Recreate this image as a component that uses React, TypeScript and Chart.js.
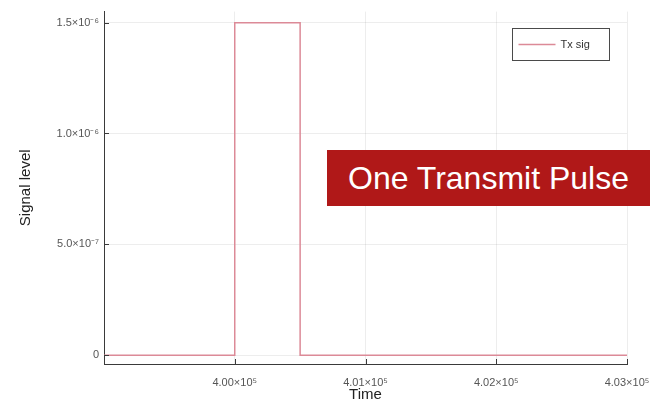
import React, { useEffect, useRef } from "react";
import { Chart, registerables } from "chart.js";

Chart.register(...registerables);

// Transmit signal: a single rectangular pulse
const times = [399000, 400000, 400000, 400500, 400500, 403000];
const levels = [0, 0, 1.5e-6, 1.5e-6, 0, 0];
const seriesName = "Tx sig";

// Axis ticks
const timeTicks = [400000, 401000, 402000, 403000];
const timeTickLabels = ["4.00×10⁵", "4.01×10⁵", "4.02×10⁵", "4.03×10⁵"];
const levelTicks = [0, 5e-7, 1e-6, 1.5e-6];
const levelTickLabels = ["0", "5.0×10⁻⁷", "1.0×10⁻⁶", "1.5×10⁻⁶"];

const LINE_COLOR = "#dc8a97";
const AXIS_COLOR = "#3a3a3a";
const FONT = "'Liberation Sans', Arial, sans-serif";

// Short tick marks drawn inward from the axes, plus an in-plot legend box
const innerTicksAndLegend = {
  id: "innerTicksAndLegend",
  afterDraw(chart: any) {
    const { ctx, chartArea, scales } = chart;
    const x = scales.x;
    const y = scales.y;
    ctx.save();
    ctx.strokeStyle = AXIS_COLOR;
    ctx.lineWidth = 1;
    ctx.beginPath();
    for (const v of levelTicks) {
      const py = Math.round(y.getPixelForValue(v)) + 0.5;
      ctx.moveTo(chartArea.left, py);
      ctx.lineTo(chartArea.left + 5, py);
    }
    for (const v of timeTicks) {
      const px = Math.round(x.getPixelForValue(v)) + 0.5;
      ctx.moveTo(px, chartArea.bottom);
      ctx.lineTo(px, chartArea.bottom - 5);
    }
    ctx.stroke();

    // legend
    const bx = 512.5, by = 28.5, bw = 97, bh = 32;
    ctx.fillStyle = "#ffffff";
    ctx.fillRect(bx, by, bw, bh);
    ctx.strokeStyle = "#4a4a4a";
    ctx.strokeRect(bx, by, bw, bh);
    ctx.strokeStyle = LINE_COLOR;
    ctx.lineWidth = 1.5;
    ctx.beginPath();
    ctx.moveTo(bx + 6, by + 16);
    ctx.lineTo(bx + 43, by + 16);
    ctx.stroke();
    ctx.fillStyle = "#333333";
    ctx.font = `11px ${FONT}`;
    ctx.textBaseline = "middle";
    ctx.fillText(seriesName, bx + 48, by + 16);
    ctx.restore();
  },
};

export default function App() {
  const canvasRef = useRef<HTMLCanvasElement | null>(null);

  useEffect(() => {
    if (!canvasRef.current) return;
    const chart = new Chart(canvasRef.current, {
      type: "line",
      data: {
        datasets: [
          {
            label: seriesName,
            data: times.map((t, i) => ({ x: t, y: levels[i] })),
            borderColor: LINE_COLOR,
            borderWidth: 1.5,
            pointRadius: 0,
            tension: 0,
            fill: false,
          },
        ],
      },
      options: {
        animation: false,
        responsive: false,
        maintainAspectRatio: false,
        layout: { padding: { top: 5, right: 27, left: 0, bottom: 0 } },
        plugins: {
          legend: { display: false },
          tooltip: { enabled: false },
        },
        scales: {
          x: {
            type: "linear",
            min: 399000,
            max: 403000,
            afterFit(scale: any) {
              scale.height = 42;
              // let the last label run past the canvas edge
              scale.paddingLeft = 0;
              scale.paddingRight = 0;
            },
            afterBuildTicks(scale: any) {
              scale.ticks = timeTicks.map((v) => ({ value: v }));
            },
            grid: {
              color: "rgba(0,0,0,0.07)",
              drawTicks: false,
            },
            border: { display: true, color: AXIS_COLOR, width: 1 },
            ticks: {
              padding: 12,
              maxRotation: 0,
              autoSkip: false,
              color: "#555555",
              font: { size: 11, family: FONT },
              callback: (_v: any, i: number) => timeTickLabels[i],
            },
            title: {
              display: true,
              text: "Time",
              color: "#222222",
              font: { size: 15, family: FONT },
              padding: { top: 0, bottom: 2 },
            },
          },
          y: {
            type: "linear",
            min: -4e-8,
            max: 1.55e-6,
            afterFit(scale: any) {
              scale.width = 104;
            },
            afterBuildTicks(scale: any) {
              scale.ticks = levelTicks.map((v) => ({ value: v }));
            },
            grid: {
              color: "rgba(0,0,0,0.07)",
              drawTicks: false,
            },
            border: { display: true, color: AXIS_COLOR, width: 1 },
            ticks: {
              padding: 5,
              color: "#555555",
              font: { size: 11, family: FONT },
              callback: (_v: any, i: number) => levelTickLabels[i],
            },
            title: {
              display: true,
              text: "Signal level",
              color: "#222222",
              font: { size: 15, family: FONT },
              padding: { top: 17, bottom: 0 },
            },
          },
        },
      },
      plugins: [innerTicksAndLegend],
    });
    return () => chart.destroy();
  }, []);

  return (
    <div
      style={{
        position: "fixed",
        left: 0,
        top: 0,
        width: 654,
        height: 406,
        overflow: "hidden",
        background: "#ffffff",
      }}
    >
      <canvas ref={canvasRef} width={654} height={406} style={{ width: 654, height: 406 }} />
      <div
        style={{
          position: "absolute",
          left: 327,
          top: 150,
          width: 323,
          height: 56,
          background: "#b01818",
          color: "#ffffff",
          fontFamily: FONT,
          fontSize: 32,
          display: "flex",
          alignItems: "center",
          justifyContent: "center",
          whiteSpace: "nowrap",
        }}
      >
        One Transmit Pulse
      </div>
    </div>
  );
}
